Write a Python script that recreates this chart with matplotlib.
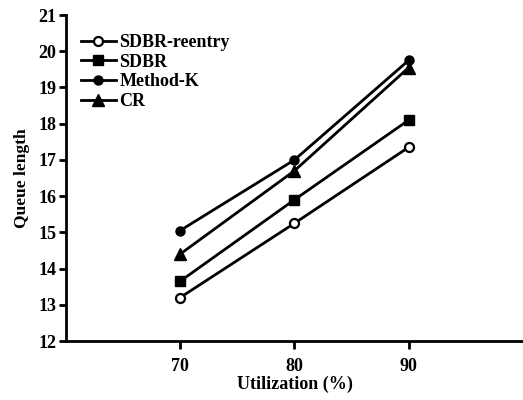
import matplotlib.pyplot as plt

utilization = [70, 80, 90]
sdbr_reentry = [13.2, 15.25, 17.35]
sdbr = [13.65, 15.9, 18.1]
method_k = [15.05, 17.0, 19.75]
cr = [14.4, 16.7, 19.55]

plt.rcParams['font.family'] = ['Liberation Serif', 'DejaVu Serif']
plt.rcParams['font.weight'] = 'bold'

fig = plt.figure(figsize=(5.23, 4.0), dpi=100)
ax = fig.add_axes([0.126, 0.1475, 0.874, 0.815])

ax.plot(utilization, sdbr_reentry, color='black', lw=2, marker='o', ms=6.5,
        mfc='white', mew=1.6, label='SDBR-reentry')
ax.plot(utilization, sdbr, color='black', lw=2, marker='s', ms=7.5, label='SDBR')
ax.plot(utilization, method_k, color='black', lw=2, marker='o', ms=6.5, label='Method-K')
ax.plot(utilization, cr, color='black', lw=2, marker='^', ms=8, label='CR')

ax.set_xlim(60, 100)
ax.set_ylim(12, 21)
ax.set_xticks(utilization)
ax.set_yticks(range(12, 22))
ax.spines['top'].set_visible(False)
ax.spines['right'].set_visible(False)
ax.spines['left'].set_linewidth(2)
ax.spines['bottom'].set_linewidth(2)
ax.tick_params(direction='out', width=2, length=5, labelsize=13, pad=2)
ax.tick_params(axis='x', length=6, pad=6)

ax.set_xlabel('Utilization (%)', fontsize=13, fontweight='bold', labelpad=1)
ax.set_ylabel('Queue length', fontsize=12.5, fontweight='bold', labelpad=6)

ax.legend(loc='upper left', bbox_to_anchor=(0.01, 0.975), frameon=False,
          fontsize=13, handlelength=1.9, handletextpad=0.2,
          labelspacing=0.15, borderaxespad=0.2)

fig.savefig('out.png', dpi=100)
plt.close()
